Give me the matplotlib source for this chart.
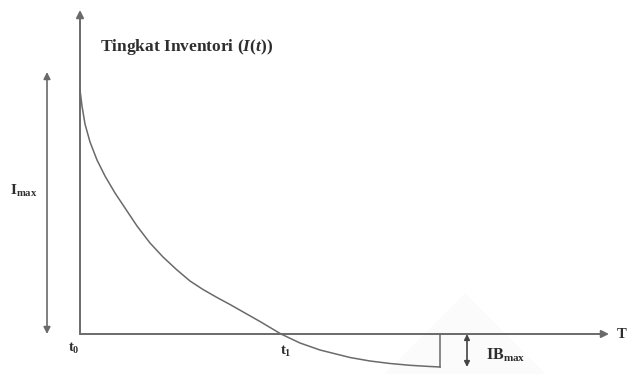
import numpy as np
import matplotlib
matplotlib.use('Agg')
from matplotlib import pyplot as plt

plt.rcParams['mathtext.fontset'] = 'custom'
plt.rcParams['mathtext.rm'] = 'Liberation Serif:bold'
plt.rcParams['mathtext.it'] = 'Liberation Serif:bold:italic'
plt.rcParams['mathtext.bf'] = 'Liberation Serif:bold'

# inventory curve (t from t0, level above the time axis)
t_curve = [0, 2, 5, 10, 17, 25, 35, 45, 57, 70, 83, 97, 110, 123, 137, 150,
           165, 180, 201, 220, 240, 270, 290, 310, 330, 350, 360]
I_curve = [244, 228, 210, 192, 174, 158, 141, 126, 108, 91, 77, 64, 53, 44.5, 36.5, 29.5,
           21, 12.5, 0, -9, -16, -23.5, -27, -29.5, -31.3, -32.5, -33]

t1 = 201          # where the stock runs out
t_end = 360       # end of the cycle (backorder peak)
I_max = 262
IB_max = 33
t_axis_end = 529
I_axis_end = 324

fig = plt.figure(figsize=(6.27, 3.74), dpi=100)
ax = fig.add_axes([0, 0, 1, 1])
ax.set_xlim(-80, 547)
ax.set_ylim(-40, 334)
ax.axis('off')

grey = '#6a6a6a'
txt = '#2e2e2e'

# faint watermark
ax.fill([305, 385, 465], [-40, 40, -40], color='#fbfbfb', zorder=0)

# axes
ax.annotate('', xy=(0, I_axis_end), xytext=(0, 0),
            arrowprops=dict(arrowstyle='-|>', color=grey, lw=1.4, mutation_scale=11,
                            shrinkA=0, shrinkB=0))
ax.annotate('', xy=(t_axis_end, 0), xytext=(0, 0),
            arrowprops=dict(arrowstyle='-|>', color=grey, lw=1.4, mutation_scale=11,
                            shrinkA=0, shrinkB=0))

# inventory curve and the drop at end of cycle
ax.plot(t_curve, I_curve, color=grey, lw=1.1, solid_joinstyle='round')
ax.plot([t_end, t_end], [I_curve[-1], 0], color=grey, lw=1.1)

# Imax and IBmax markers
ax.annotate('', xy=(-33, I_max), xytext=(-33, 0),
            arrowprops=dict(arrowstyle='<|-|>', color=grey, lw=1.2, mutation_scale=10,
                            shrinkA=0, shrinkB=0))
ax.annotate('', xy=(387, -IB_max), xytext=(387, 0),
            arrowprops=dict(arrowstyle='<|-|>', color='#444444', lw=1.2, mutation_scale=8,
                            shrinkA=0, shrinkB=0))

font = dict(family='Liberation Serif', weight='bold', color=txt)
ax.text(20, 287, r'Tingkat Inventori ($I(t)$)', fontsize=12.5, va='center', ha='left', **font)
ax.text(-56, 143, r'$\mathrm{I}_{\mathrm{max}}$', fontsize=11, va='center', ha='center', **font)
ax.text(-6, -14, r'$\mathrm{t}_{0}$', fontsize=10.5, va='center', ha='center', **font)
ax.text(t1 + 5, -17, r'$\mathrm{t}_{1}$', fontsize=10.5, va='center', ha='center', **font)
ax.text(406, -21, r'$\mathrm{IB}_{\mathrm{max}}$', fontsize=11.5, va='center', ha='left', **font)
ax.text(537, 0, 'T', fontsize=10.5, va='center', ha='left', **font)

plt.savefig('out.png', dpi=100)
